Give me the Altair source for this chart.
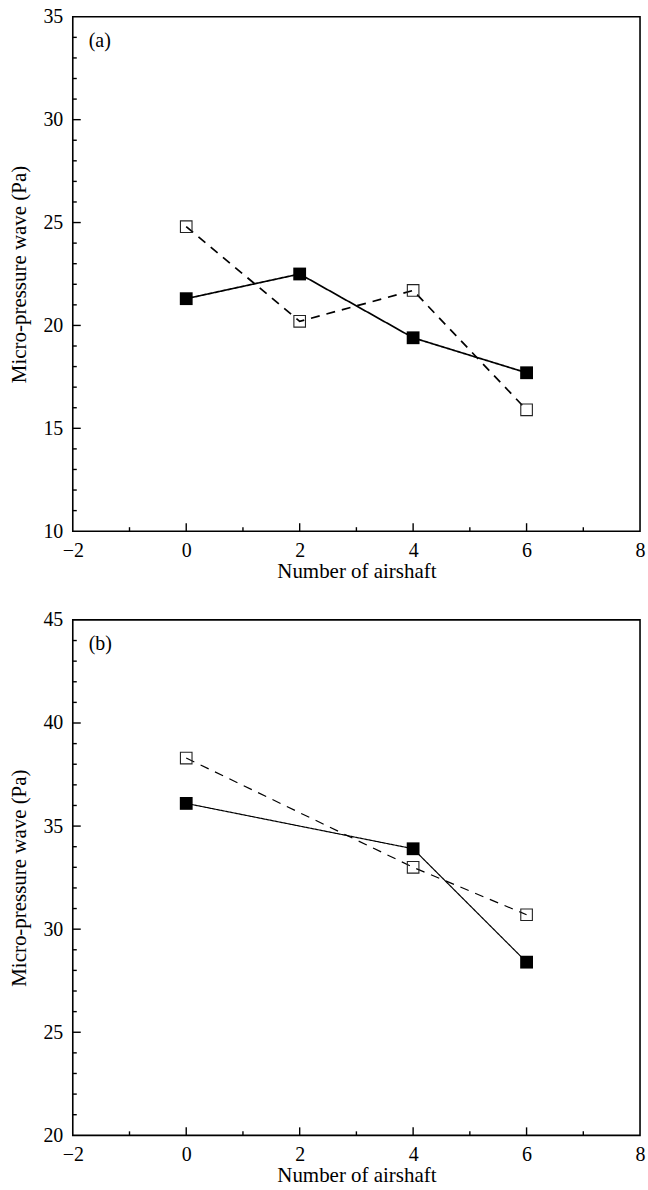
import altair as alt
import pandas as pd

# ---- data ----
a_x = [0, 2, 4, 6]
a_filled = [21.3, 22.5, 19.4, 17.7]
a_open = [24.8, 20.2, 21.7, 15.9]

b_x = [0, 4, 6]
b_filled = [36.1, 33.9, 28.4]
b_open = [38.3, 33.0, 30.7]

x_ticks = [-2, 0, 2, 4, 6, 8]
x_major = [0, 2, 4, 6]
x_minor = [-1, 1, 3, 5, 7]

a_y_ticks = [10, 15, 20, 25, 30, 35]
a_y_major = [15, 20, 25, 30]
a_y_minor = [11, 12, 13, 14, 16, 17, 18, 19, 21, 22, 23, 24, 26, 27, 28, 29, 31, 32, 33, 34]

b_y_ticks = [20, 25, 30, 35, 40, 45]
b_y_major = [25, 30, 35, 40]
b_y_minor = [21, 22, 23, 24, 26, 27, 28, 29, 31, 32, 33, 34, 36, 37, 38, 39, 41, 42, 43, 44]

x_title = "Number of airshaft"
y_title = "Micro-pressure wave (Pa)"

FONT = "Liberation Serif"
W = 569


def panel(xs, filled, opens, label, ydom, yvals, ymaj, ymin, H, lw, dash):
    df = pd.DataFrame({
        "x": xs + xs,
        "y": filled + opens,
        "s": ["filled"] * len(xs) + ["open"] * len(xs),
    })
    xsc = alt.Scale(domain=[-2, 8], nice=False, zero=False)
    ysc = alt.Scale(domain=ydom, nice=False, zero=False)
    xaxis = alt.Axis(values=x_ticks, ticks=False, tickSize=0, domain=False, grid=False,
                     labelPadding=9, labelFlush=False, labelFontSize=20, labelFont=FONT,
                     labelColor="black", title=x_title, titleFont=FONT, titleFontSize=21,
                     titleFontWeight="normal", titleColor="black", titleY=40,
                     titleBaseline="middle")
    yaxis = alt.Axis(values=yvals, ticks=False, tickSize=0, domain=False, grid=False,
                     labelPadding=10, labelFlush=False, labelFontSize=20, labelFont=FONT,
                     labelColor="black", labelBaseline="middle", title=y_title, titleFont=FONT,
                     titleFontSize=21, titleFontWeight="normal", titleColor="black",
                     titleX=-53, titleY=H / 2, titleBaseline="middle")

    X = lambda f: alt.X(f, scale=xsc, axis=xaxis)
    Y = lambda f: alt.Y(f, scale=ysc, axis=yaxis)

    lines = alt.Chart(df).mark_line(color="black", strokeWidth=lw).encode(
        x=X("x:Q"),
        y=Y("y:Q"),
        strokeDash=alt.StrokeDash("s:N", scale=alt.Scale(domain=["filled", "open"],
                                                         range=[[1, 0], dash]), legend=None),
        detail="s:N",
    )
    pf = alt.Chart(df[df.s == "filled"]).mark_square(size=165, color="black", opacity=1).encode(
        x=X("x:Q"), y=Y("y:Q"))
    po = alt.Chart(df[df.s == "open"]).mark_point(shape="square", filled=False, size=135,
                                                   stroke="#222", strokeWidth=1.1, opacity=1).encode(
        x=X("x:Q"), y=Y("y:Q"))

    def xt(vals, ln):
        return alt.Chart(pd.DataFrame({"v": vals})).mark_rule(color="black", strokeWidth=1.4).encode(
            x=X("v:Q"), y=alt.value(H), y2=alt.value(H - ln))

    def yt(vals, ln):
        return alt.Chart(pd.DataFrame({"v": vals})).mark_rule(color="black", strokeWidth=1.4).encode(
            y=Y("v:Q"), x=alt.value(0), x2=alt.value(ln))

    lab = alt.Chart(pd.DataFrame({"t": [label]})).mark_text(
        align="left", baseline="middle", font=FONT, fontSize=20, color="black").encode(
        x=alt.value(16), y=alt.value(24), text="t:N")

    return alt.layer(lines, pf, po, xt(x_major, 8), xt(x_minor, 4), yt(ymaj, 8), yt(ymin, 4),
                     lab).properties(width=W, height=H)


pa = panel(a_x, a_filled, a_open, "(a)", [10, 35], a_y_ticks, a_y_major, a_y_minor, 516, 1.7, [9, 7])
pb = panel(b_x, b_filled, b_open, "(b)", [20, 45], b_y_ticks, b_y_major, b_y_minor, 517, 1.2, [8, 7])

chart = alt.vconcat(pa, pb, spacing=27).properties(
    padding={"left": 8, "top": 4, "right": 2, "bottom": 0}
).configure(background="white").configure_view(stroke="black", strokeWidth=1.6)

chart.save("out.html", embed_options={"renderer": "svg", "actions": False})
